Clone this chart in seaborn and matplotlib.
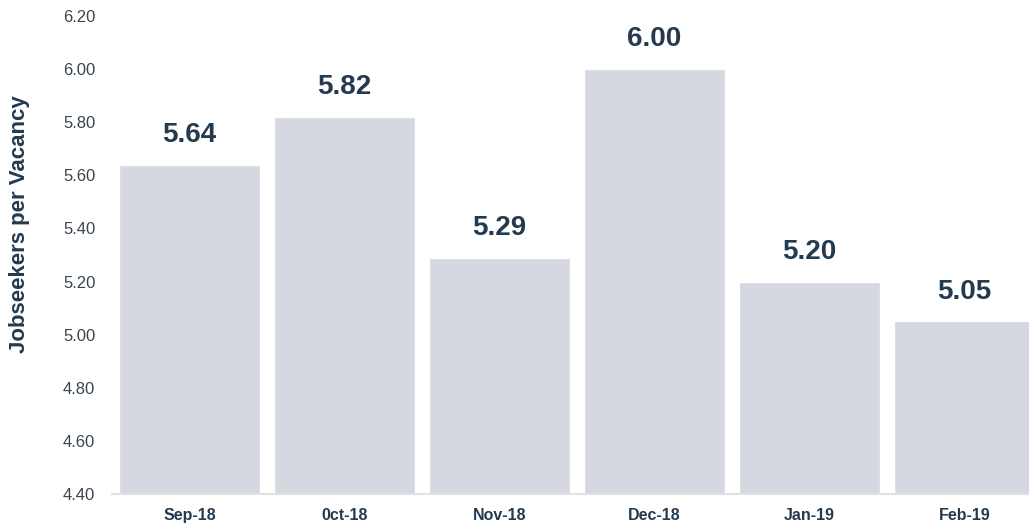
import matplotlib
matplotlib.use("Agg")
import matplotlib.pyplot as plt
import seaborn as sns
import pandas as pd

months = ["Sep-18", "0ct-18", "Nov-18", "Dec-18", "Jan-19", "Feb-19"]
values = [5.64, 5.82, 5.29, 6.00, 5.20, 5.05]
yticks = [4.40, 4.60, 4.80, 5.00, 5.20, 5.40, 5.60, 5.80, 6.00, 6.20]

sns.set_theme(style="white")
plt.rcParams["font.family"] = ["Liberation Sans", "DejaVu Sans"]

NAVY = "#243a4f"
TICK = "#3a4450"
BAR = "#d5d8e0"

df = pd.DataFrame({"month": months, "value": values})

fig = plt.figure(figsize=(10.29, 5.26), dpi=100)
W, H = 1029, 526
ax = fig.add_axes([112 / W, (H - 494) / H, 930 / W, (494 - 16) / H])

sns.barplot(data=df, x="month", y="value", color=BAR, saturation=1,
            width=0.91, ax=ax)

ax.set_xlim(-0.5, len(months) - 0.5)
ax.set_ylim(4.40, 6.20)
ax.set_yticks(yticks)
ax.set_yticklabels([f"{v:.2f}" for v in yticks], color=TICK, fontsize=12)
ax.tick_params(axis="y", length=0, pad=12)
ax.tick_params(axis="x", length=0, pad=10)
for lab in ax.get_xticklabels():
    lab.set_fontweight("bold")
    lab.set_fontsize(11.5)
    lab.set_color(NAVY)

ax.set_xlabel("")
ax.set_ylabel("Jobseekers per Vacancy", fontsize=16, fontweight="bold", color=NAVY)
ax.yaxis.label.set_va("center")
ax.yaxis.set_label_coords((20 - 112) / 930, (494 - 224) / 478)

for s in ["top", "right", "left"]:
    ax.spines[s].set_visible(False)
ax.spines["bottom"].set_color("#e2e2e2")
ax.spines["bottom"].set_linewidth(1.5)

for i, v in enumerate(values):
    ax.annotate(f"{v:.2f}", xy=(i, v), xytext=(0, 12), textcoords="offset points",
                ha="center", va="bottom", fontsize=20, fontweight="bold", color=NAVY)

fig.savefig("out.png", dpi=100)
